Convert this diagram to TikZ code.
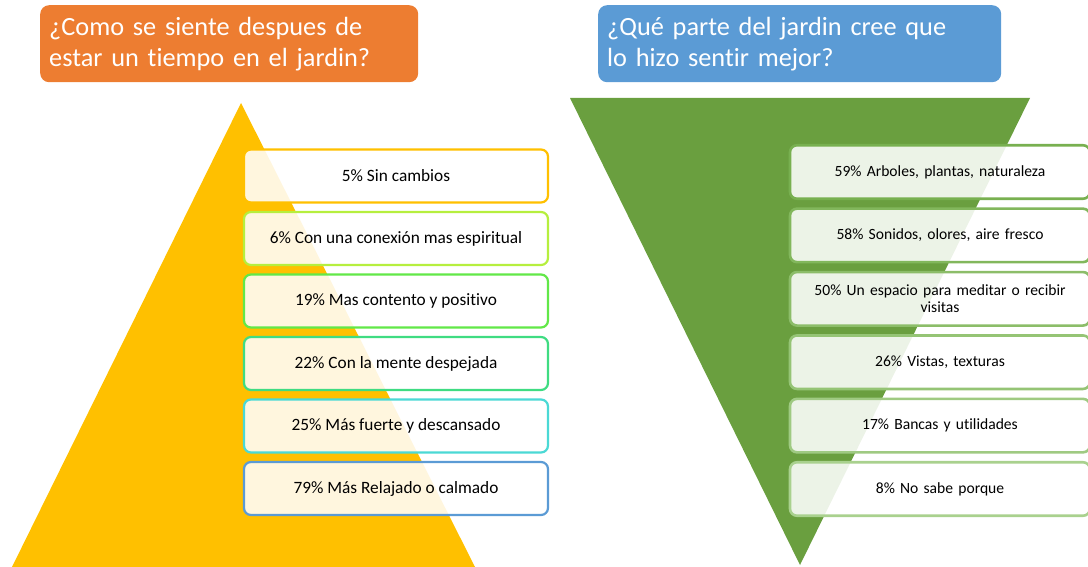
\documentclass[tikz,border=0pt]{standalone}
\usepackage{fontspec}
\setmainfont{Carlito}[Ligatures=NoCommon]
\usepackage{xcolor}
\usetikzlibrary{positioning}

\definecolor{qorange}{HTML}{ED7D31}
\definecolor{qblue}{HTML}{5B9BD5}
\definecolor{pyellow}{HTML}{FFC000}
\definecolor{pgreen}{HTML}{6A9F3F}
\definecolor{lineA}{HTML}{FFC000}
\definecolor{lineB}{HTML}{B6EF3E}
\definecolor{lineC}{HTML}{62E848}
\definecolor{lineD}{HTML}{3FDC82}
\definecolor{lineE}{HTML}{4BD9D5}
\definecolor{lineF}{HTML}{5B9BD5}
\definecolor{rimdark}{HTML}{78B050}
\definecolor{rimlight}{HTML}{A9D18E}

\begin{document}
\begin{tikzpicture}[x=1pt, y=-1pt,
  title/.style={rounded corners=9pt, text=white, align=left, anchor=north west,
                minimum height=77pt, inner xsep=9pt, font=\fontsize{26.3}{31}\selectfont},
  feel/.style={draw, line width=2.2pt, rounded corners=7pt, minimum width=304pt,
               minimum height=53pt, align=center, fill=white, fill opacity=0.87,
               text opacity=1, font=\fontsize{17.3}{20}\selectfont},
  part/.style={draw, line width=2.6pt, rounded corners=7pt, minimum width=300pt,
               minimum height=53.5pt, align=center, fill=white, fill opacity=0.88,
               text opacity=1, text width=285pt, font=\fontsize{15.6}{17.5}\selectfont},
  node distance=7.3pt
]
\useasboundingbox (0,0) rectangle (1088,567);

% ── Pyramids ─────────────────────────────────────────────────────────────────
\fill[pyellow] (12,567) -- (241,103) -- (475,567) -- cycle;
\fill[pgreen]  (570,98) -- (1030,98) -- (800,565) -- cycle;

% ── Questions ────────────────────────────────────────────────────────────────
\node[title, fill=qorange, text width=360pt] (qfeel) at (40,5)
  {¿Como se siente despues de\\estar un tiempo en el jardin?};
\node[title, fill=qblue, text width=385pt] (qpart) at (598,5)
  {¿Qué parte del jardin cree que\\lo hizo sentir mejor?};

% ── Left column: feelings ────────────────────────────────────────────────────
\node[feel, draw=lineA] (f1) at (396,176) {5\% Sin cambios};
\node[feel, draw=lineB, below=of f1] (f2) {6\% Con una conexión mas espiritual};
\node[feel, draw=lineC, below=of f2] (f3) {19\% Mas contento y positivo};
\node[feel, draw=lineD, below=of f3] (f4) {22\% Con la mente despejada};
\node[feel, draw=lineE, below=of f4] (f5) {25\% Más fuerte y descansado};
\node[feel, draw=lineF, below=of f5] (f6) {79\% Más Relajado o calmado};

% ── Right column: garden parts ───────────────────────────────────────────────
\node[part, draw=rimdark] (p1) at (940,172) {59\% Arboles, plantas, naturaleza};
\node[part, draw=rimdark!80!rimlight, below=of p1] (p2) {58\% Sonidos, olores, aire fresco};
\node[part, draw=rimdark!60!rimlight, below=of p2] (p3)
  {50\% Un espacio para meditar o recibir\\visitas};
\node[part, draw=rimdark!40!rimlight, below=of p3] (p4) {26\% Vistas, texturas};
\node[part, draw=rimdark!20!rimlight, below=of p4] (p5) {17\% Bancas y utilidades};
\node[part, draw=rimlight, below=of p5] (p6) {8\% No sabe porque};
\end{tikzpicture}
\end{document}
